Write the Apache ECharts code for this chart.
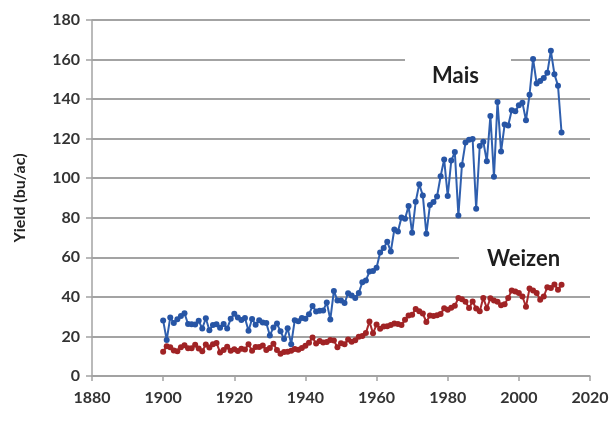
<!DOCTYPE html>
<html>
<head>
<meta charset="utf-8">
<script src="https://cdn.jsdelivr.net/npm/echarts@6/dist/echarts.min.js"></script>
<style>
  html, body { margin: 0; padding: 0; background: #fff; }
  #chart { width: 614px; height: 425px; }
</style>
</head>
<body>
<div id="chart"></div>
<script>
  // years 1900..2012
  var firstYear = 1900;
  var xTicks = [1880, 1900, 1920, 1940, 1960, 1980, 2000, 2020];
  var yTicks = [0, 20, 40, 60, 80, 100, 120, 140, 160, 180];

  // Mais (bu/ac)
  var maisValues = [
    28.1, 18.2, 29.6, 26.8, 28.7, 30.3, 31.7, 26.3, 26.2, 26.1,
    27.9, 24.0, 29.2, 23.1, 25.8, 26.2, 24.4, 26.3, 24.0, 28.9,
    31.5, 29.6, 28.3, 29.3, 22.9, 28.8, 25.9, 28.2, 27.0, 26.8,
    20.5, 24.5, 26.5, 22.6, 18.7, 24.2, 16.1, 28.2, 27.7, 29.3,
    28.9, 31.2, 35.4, 32.6, 33.0, 33.1, 37.2, 28.6, 43.0, 38.2,
    38.2, 36.9, 41.8, 40.7, 39.4, 42.0, 47.4, 48.3, 52.8, 53.1,
    54.7, 62.4, 64.7, 67.9, 62.9, 74.1, 73.1, 80.1, 79.5, 85.9,
    72.4, 88.1, 97.0, 91.3, 71.9, 86.4, 88.0, 90.8, 101.0, 109.5,
    91.0, 108.9, 113.2, 81.1, 106.7, 118.0, 119.4, 119.8, 84.6, 116.3,
    118.5, 108.6, 131.5, 100.7, 138.6, 113.5, 127.1, 126.7, 134.4, 133.8,
    136.9, 138.2, 129.3, 142.2, 160.3, 147.9, 149.1, 150.7, 153.3, 164.4,
    152.6, 146.8, 123.1
  ];

  // Weizen (bu/ac)
  var weizenValues = [
    12.3, 15.0, 14.5, 12.9, 12.5, 14.5, 15.5, 14.0, 14.0, 15.8,
    13.9, 12.5, 15.9, 14.4, 16.1, 16.7, 11.9, 13.2, 14.8, 12.8,
    13.5, 12.7, 13.8, 13.4, 16.0, 12.8, 14.7, 14.7, 15.4, 13.1,
    14.2, 16.3, 13.1, 11.2, 12.1, 12.2, 12.8, 13.6, 13.3, 14.1,
    15.3, 16.8, 19.5, 16.4, 17.7, 17.0, 17.2, 18.2, 17.9, 14.5,
    16.5, 16.0, 18.4, 17.3, 18.1, 19.8, 20.2, 21.8, 27.5, 21.6,
    26.1, 23.9, 25.0, 25.2, 25.8, 26.5, 26.3, 25.8, 28.4, 30.6,
    31.0, 33.9, 32.7, 31.6, 27.3, 30.6, 30.3, 30.7, 31.4, 34.2,
    33.5, 34.5, 35.5, 39.4, 38.8, 37.5, 34.4, 37.7, 34.1, 32.7,
    39.5, 34.3, 39.3, 38.2, 37.6, 35.8, 36.3, 39.5, 43.2, 42.7,
    42.0, 40.2, 35.0, 44.2, 43.2, 42.0, 38.6, 40.2, 44.9, 44.5,
    46.3, 43.6, 46.2
  ];

  function pairs(values) {
    return values.map(function (v, i) { return [firstYear + i, v]; });
  }

  var gridColor = '#a3a3a3';
  var labelFont = { fontFamily: 'Lato', fontWeight: 'bold', fontSize: 16, color: '#333' };

  var chart = echarts.init(document.getElementById('chart'));
  chart.setOption({
    animation: false,
    grid: { left: 92, right: 24, top: 20, bottom: 49 },
    xAxis: {
      type: 'value',
      min: xTicks[0],
      max: xTicks[xTicks.length - 1],
      interval: 20,
      axisLine: { show: true, onZero: false, lineStyle: { color: gridColor, width: 1.5 } },
      axisTick: { show: true, length: 5, lineStyle: { color: gridColor, width: 1.5 } },
      splitLine: { show: false },
      axisLabel: Object.assign({ margin: 14, formatter: function (v) { return String(v); } }, labelFont)
    },
    yAxis: {
      type: 'value',
      min: yTicks[0],
      max: yTicks[yTicks.length - 1],
      interval: 20,
      name: 'Yield (bu/ac)',
      nameLocation: 'middle',
      nameGap: 64,
      nameRotate: 90,
      nameTextStyle: { fontFamily: 'Lato', fontWeight: 'bold', fontSize: 16, color: '#222' },
      axisLine: { show: true, lineStyle: { color: gridColor, width: 1.5 } },
      axisTick: { show: true, length: 6, lineStyle: { color: gridColor, width: 1.5 } },
      splitLine: { show: true, lineStyle: { color: gridColor, width: 1.8 } },
      axisLabel: Object.assign({ margin: 12 }, labelFont)
    },
    // white boxes behind the two labels hide parts of the grid lines
    graphic: [
      { type: 'rect', z: 1, shape: { x: 405, y: 45, width: 106, height: 48 }, style: { fill: '#fff' } },
      { type: 'rect', z: 1, shape: { x: 459, y: 243, width: 140, height: 36 }, style: { fill: '#fff' } },
      { type: 'text', z: 10, left: 432, top: 65,
        style: { text: 'Mais', fontFamily: 'Lato', fontWeight: 'bold', fontSize: 22, fill: '#1e1e1e' } },
      { type: 'text', z: 10, left: 487, top: 248,
        style: { text: 'Weizen', fontFamily: 'Lato', fontWeight: 'bold', fontSize: 22, fill: '#1e1e1e' } }
    ],
    series: [
      {
        name: 'Mais',
        type: 'line',
        data: pairs(maisValues),
        symbol: 'circle',
        symbolSize: 6,
        lineStyle: { color: '#2f5fae', width: 2 },
        itemStyle: { color: '#2755a5' }
      },
      {
        name: 'Weizen',
        type: 'line',
        data: pairs(weizenValues),
        symbol: 'circle',
        symbolSize: 6,
        lineStyle: { color: '#a82a2c', width: 2 },
        itemStyle: { color: '#a02325' }
      }
    ]
  });
</script>
</body>
</html>
